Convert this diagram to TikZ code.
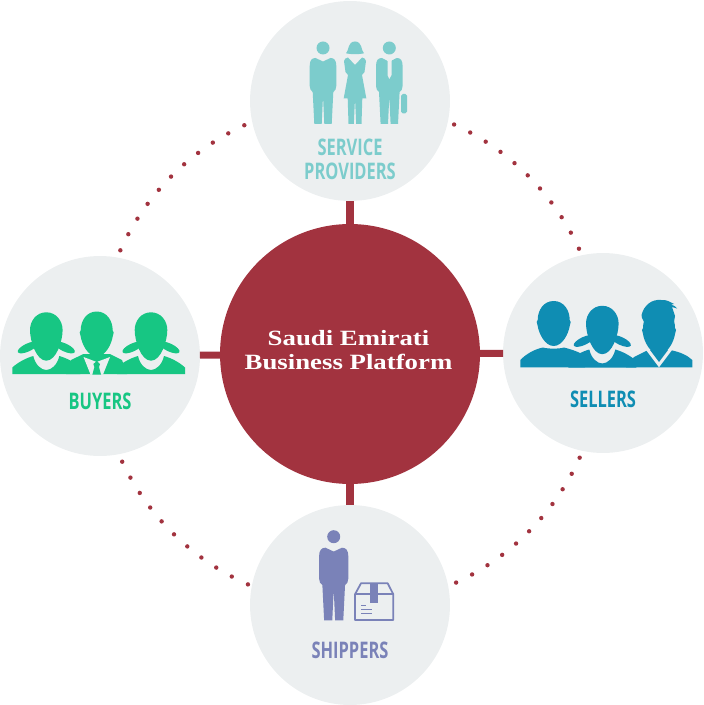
\documentclass[tikz,border=0pt]{standalone}
\usepackage{fontspec}
\newfontfamily\tagfont[FakeStretch=0.72]{Open Sans}
\newfontfamily\hubfont[FakeStretch=1.23]{Liberation Serif}
\definecolor{hubred}{HTML}{A2333F}
\definecolor{disc}{HTML}{ECEFF0}
\definecolor{teal}{HTML}{7CCCCC}
\definecolor{leaf}{HTML}{17C683}
\definecolor{sea}{HTML}{0F8DB3}
\definecolor{iris}{HTML}{7A82B8}
\tikzset{
	party/.style={circle,fill=disc,minimum size=4cm,inner sep=0,outer sep=0},
	hub/.style={circle,fill=hubred,minimum size=5.2cm,inner sep=0,outer sep=0},
	spoke/.style={line width=4pt,draw=hubred},
	tag/.style={font=\tagfont\bfseries\fontsize{13}{13.7}\selectfont,align=center,inner sep=0},
	hubtag/.style={font=\hubfont\bfseries\fontsize{12.4}{13.85}\selectfont,align=center,inner sep=0,text=white},
}
% standing figure, #1 #2 head position, #3 colour, #4 size of the body
\newcommand{\manfigure}[4]{
	\fill[#3] (#1,#2) circle (6.5);
	\fill[#3,shift={(#1,#2)},scale=#4] (0,13.5) -- (7.5,10) .. controls (11,10) and (13.3,12) .. (13.3,18) -- (13.3,38) .. controls (13.3,41) and (12,43) .. (10.3,44) -- (8.7,76) -- (1.3,76) -- (0,48) -- (-1.3,76) -- (-8.7,76) -- (-10.3,44) .. controls (-12,43) and (-13.3,41) .. (-13.3,38) -- (-13.3,18) .. controls (-13.3,12) and (-11,10) .. (-7.5,10) -- cycle;
}
% head with two tails and round collar
\newcommand{\ladybust}[3]{
	\begin{scope}[shift={(#1,#2)}]
		\fill[#3,rotate around={25:(-18.5,12.5)}] (-18.5,12.5) ellipse (11 and 4);
		\fill[#3,rotate around={-25:(18.5,12.5)}] (18.5,12.5) ellipse (11 and 4);
		\fill[#3] (-34,39) -- (-34,32.5) .. controls (-28,27) and (-20,23) .. (-13,21) .. controls (-11,30) and (-5,35) .. (0,35) .. controls (5,35) and (11,30) .. (13,21) .. controls (20,23) and (28,27) .. (34,32.5) -- (34,39) -- cycle;
		\fill[#3] (0,-22.7) .. controls (10,-22.7) and (16.3,-14) .. (16.3,-5) .. controls (16.3,6) and (10,25.7) .. (0,25.7) .. controls (-10,25.7) and (-16.3,6) .. (-16.3,-5) .. controls (-16.3,-14) and (-10,-22.7) .. (0,-22.7) -- cycle;
	\end{scope}
}
% head of a man, no body
\newcommand{\manhead}[3]{
	\fill[#3,shift={(#1,#2)}] (0,-22) .. controls (10,-22) and (16,-13) .. (16,-3) -- (17,-1) -- (16,3) .. controls (15,10) and (9,23) .. (0,23) .. controls (-9,23) and (-15,10) .. (-16,3) -- (-17,-1) -- (-16,-3) .. controls (-16,-13) and (-10,-22) .. (0,-22) -- cycle;
}
\begin{document}
\begin{tikzpicture}[x=0.02cm,y=-0.02cm]
	\useasboundingbox (0,0) rectangle (703,705);
	
	\node [hub] (platform) at (350,354) {};
	\node [party] (providers) at (350,101) {};
	\node [party] (buyers) at (100,356) {};
	\node [party] (sellers) at (603,353) {};
	\node [party] (shippers) at (350,605) {};
	
	\draw [spoke] (platform) -- (providers);
	\draw [spoke] (platform) -- (buyers);
	\draw [spoke] (platform) -- (sellers);
	\draw [spoke] (platform) -- (shippers);
	
	\begin{scope}[shift={(350,354)}]
		\foreach \first/\last in {-65.6/-24.7,24.3/65.1,113.9/154.7,204.3/245.2}
			\foreach \i in {0,...,10}
				\fill [hubred] ({\first+\i*(\last-\first)/10}:252) circle (2.2);
	\end{scope}
	
	\node [hubtag] (platformtag) at (348.5,350) {Saudi Emirati\\Business Platform};
	\node [tag,text=teal] (providerstag) at (350,159) {SERVICE\\PROVIDERS};
	\node [tag,text=leaf] (buyerstag) at (100,401.5) {BUYERS};
	\node [tag,text=sea] (sellerstag) at (603,399) {SELLERS};
	\node [tag,text=iris] (shipperstag) at (350,650) {SHIPPERS};
	
	% service providers
	\manfigure{323}{48}{teal}{1}
	\manfigure{389.3}{48}{teal}{1}
	\fill [disc] (382.5,57.5) -- (389.3,62) -- (396,57.5) -- (389.3,55.5) -- cycle;
	\fill [disc] (387.5,58) -- (391.5,58) -- (391.5,75) -- (389.3,79) -- (387.5,75) -- cycle;
	\fill [teal,rounded corners=1] (401,94) rectangle (407,113.3);
	\begin{scope}[shift={(355,48)}]
		\fill [teal] (-9,5.3) .. controls (-6,3) and (-7.5,-6.5) .. (0,-6.5) .. controls (7.5,-6.5) and (6,3) .. (9,5.3) .. controls (5,6.5) and (-5,6.5) .. (-9,5.3) -- cycle;
		\fill [teal] (0,0) circle (6);
		\fill [teal] (0,17) -- (7,9.5) .. controls (9,10) and (11,11) .. (11,13) -- (9.5,24) -- (7,27) -- (11.3,50.3) -- (7.3,50.3) -- (6.5,76) -- (1.2,76) -- (0,50.3) -- (-1.2,76) -- (-6.5,76) -- (-7.3,50.3) -- (-11.3,50.3) -- (-7,27) -- (-9.5,24) -- (-11,13) .. controls (-11,11) and (-9,10) .. (-7,9.5) -- cycle;
	\end{scope}
	
	% buyers
	\ladybust{46.3}{335}{leaf}
	\ladybust{151}{335}{leaf}
	\fill [leaf] (66,374) -- (71,360) -- (83.5,354) -- (110,354) -- (122,360) -- (127,374) -- cycle;
	\fill [disc] (83.5,357) -- (96.7,362) -- (110,357) -- (103,374.5) -- (90.5,374.5) -- cycle;
	\fill [leaf] (96.7,361) -- (100,364) -- (99,367) -- (101,374.5) -- (92.4,374.5) -- (94.4,367) -- (93.4,364) -- cycle;
	\manhead{96.7}{333.5}{leaf}
	
	% sellers
	\fill [sea] (520.3,367.3) -- (520.3,360) .. controls (526,354) and (535,349) .. (543,347.5) .. controls (548,349) and (559,349) .. (564,347.5) .. controls (570,349) and (576,351) .. (580,353) -- (585,367.3) -- cycle;
	\manhead{553.7}{323}{sea}
	\ladybust{602.3}{328.5}{sea}
	\fill [sea] (626,367.3) -- (634,357) -- (648,350) -- (670,350) .. controls (680,352) and (687,355) .. (692.3,360) -- (692.3,367.3) -- cycle;
	\fill [disc] (646,350) -- (659,367.3) -- (672,350) -- cycle;
	\fill [sea] (650,350) -- (659,362) -- (668,350) -- cycle;
	\manhead{659}{331}{sea}
	\fill [sea] (641.5,315) .. controls (644,305) and (652,299) .. (661,300) .. controls (667,299.5) and (670,302) .. (674,304) -- (671,304.5) .. controls (674,305) and (676,307) .. (677,308.5) -- (672,307) -- (675,316) -- (674,322) -- (644,322) -- (642,318) -- cycle;
	
	% shippers
	\manfigure{333.7}{536.7}{iris}{1.1}
	\draw [iris,line width=1pt,line join=round] (361,583.3) -- (387.7,583.3) -- (393.3,594.3) -- (393.3,620) -- (355,620) -- (355,594.3) -- cycle;
	\draw [iris,line width=1pt] (355,594.3) -- (393.3,594.3);
	\fill [iris] (370,584) -- (378.3,584) -- (378.3,603.3) -- (370,603.3) -- cycle;
	\draw [iris,line width=0.6pt] (361,605.7) -- (366,605.7);
	\draw [iris,line width=0.6pt] (361,609.3) -- (371.7,609.3);
	\draw [iris,line width=0.6pt] (361,613.3) -- (371.7,613.3);
\end{tikzpicture}
\end{document}
